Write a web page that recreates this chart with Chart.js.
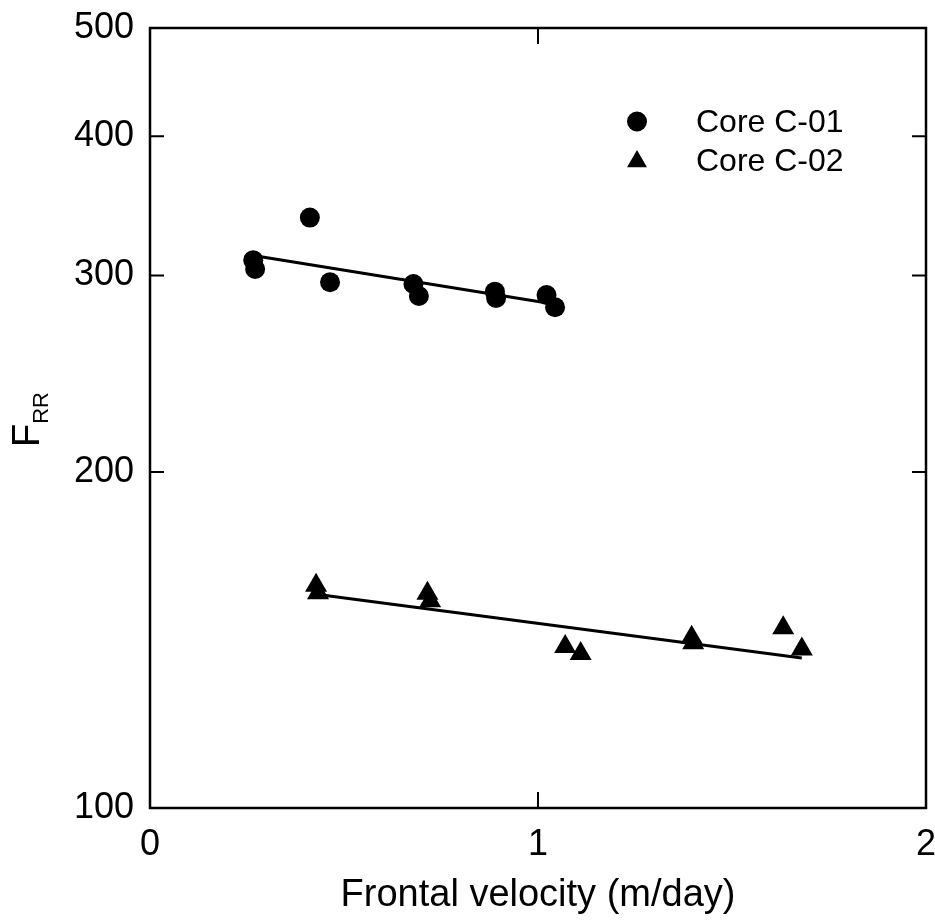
<!DOCTYPE html>
<html>
<head>
<meta charset="utf-8">
<script src="https://cdn.jsdelivr.net/npm/chart.js@4/dist/chart.umd.min.js"></script>
<style>
  html, body { margin: 0; padding: 0; background: #fff; }
  #wrap { width: 935px; height: 924px; }
</style>
</head>
<body>
<div id="wrap"><canvas id="frrChart" width="935" height="924"></canvas></div>
<script>
// ── data ──
const X_TICKS = [0, 1, 2];
const Y_TICKS = [100, 200, 300, 400, 500];

// Core C-01 (circles)
const C01_X = [0.266, 0.271, 0.412, 0.464, 0.679, 0.693, 0.889, 0.892, 1.022, 1.044];
const C01_Y = [309.7, 304.1, 338.1, 295.9, 294.8, 287.6, 290.2, 286.4, 288.2, 281.0];

// Core C-02 (triangles)
const C02_X = [0.428, 0.433, 0.715, 0.722, 1.070, 1.110, 1.396, 1.400, 1.632, 1.680];
const C02_Y = [158.3, 155.9, 155.7, 153.3, 139.5, 137.5, 142.2, 140.6, 145.0, 138.8];

// fitted lines (end points)
const FIT01_X = [0.266, 1.044];
const FIT01_Y = [312.7, 282.8];
const FIT02_X = [0.428, 1.680];
const FIT02_Y = [155.4, 136.3];

const LABELS = ['Core C-01', 'Core C-02'];

const toXY = (xs, ys) => xs.map((x, i) => ({ x: x, y: ys[i] }));

const FONT = 'Liberation Sans, Arial, Helvetica, sans-serif';

// ── box, inside ticks, legend, y title ──
const framePlugin = {
  id: 'frame',
  afterDraw(chart) {
    const { ctx, chartArea: a, scales: { x, y } } = chart;
    ctx.save();
    ctx.strokeStyle = '#000';
    ctx.lineWidth = 2.5;
    ctx.strokeRect(a.left, a.top, a.right - a.left, a.bottom - a.top);

    // inside tick marks
    ctx.lineWidth = 2;
    ctx.beginPath();
    Y_TICKS.slice(1, -1).forEach(v => {
      const py = y.getPixelForValue(v);
      ctx.moveTo(a.left, py);  ctx.lineTo(a.left + 14, py);
      ctx.moveTo(a.right, py); ctx.lineTo(a.right - 14, py);
    });
    X_TICKS.slice(1, -1).forEach(v => {
      const px = x.getPixelForValue(v);
      ctx.moveTo(px, a.bottom); ctx.lineTo(px, a.bottom - 16);
      ctx.moveTo(px, a.top);    ctx.lineTo(px, a.top + 16);
    });
    ctx.stroke();

    // legend
    ctx.fillStyle = '#000';
    ctx.beginPath();
    ctx.arc(637, 121.5, 10, 0, Math.PI * 2);
    ctx.fill();
    const r = 11.5, cx = 637, cy = 161.5;
    ctx.beginPath();
    ctx.moveTo(cx, cy - r);
    ctx.lineTo(cx + Math.sin(Math.PI * 2 / 3) * r, cy + r / 2);
    ctx.lineTo(cx - Math.sin(Math.PI * 2 / 3) * r, cy + r / 2);
    ctx.closePath();
    ctx.fill();
    ctx.font = '32px ' + FONT;
    ctx.textAlign = 'left';
    ctx.textBaseline = 'alphabetic';
    ctx.fillText(LABELS[0], 696, 131.5);
    ctx.fillText(LABELS[1], 696, 170.5);

    // y title: F with subscript RR
    ctx.translate(39, 447);
    ctx.rotate(-Math.PI / 2);
    ctx.font = '38px ' + FONT;
    ctx.fillText('F', 0, 0);
    const fw = ctx.measureText('F').width;
    ctx.font = '22px ' + FONT;
    ctx.fillText('RR', fw, 9);
    ctx.restore();
  }
};

new Chart(document.getElementById('frrChart'), {
  type: 'scatter',
  data: {
    datasets: [
      {
        label: LABELS[0],
        data: toXY(C01_X, C01_Y),
        pointStyle: 'circle',
        pointRadius: 10,
        pointHoverRadius: 10,
        backgroundColor: '#000',
        borderWidth: 0,
      },
      {
        label: LABELS[1],
        data: toXY(C02_X, C02_Y),
        pointStyle: 'triangle',
        pointRadius: 12.7,
        pointHoverRadius: 12.7,
        backgroundColor: '#000',
        borderWidth: 0,
      },
      {
        label: 'fit C-01',
        data: toXY(FIT01_X, FIT01_Y),
        showLine: true,
        pointRadius: 0,
        borderColor: '#000',
        borderWidth: 3,
      },
      {
        label: 'fit C-02',
        data: toXY(FIT02_X, FIT02_Y),
        showLine: true,
        pointRadius: 0,
        borderColor: '#000',
        borderWidth: 3,
      },
    ]
  },
  options: {
    responsive: false,
    animation: false,
    events: [],
    layout: { autoPadding: false, padding: { left: 0, right: 9, top: 28, bottom: 0 } },
    plugins: {
      legend: { display: false },
      tooltip: { enabled: false },
    },
    scales: {
      x: {
        type: 'linear',
        min: 0, max: 2,
        afterBuildTicks: s => { s.ticks = X_TICKS.map(v => ({ value: v })); },
        afterFit: s => { s.height = 116; s.paddingLeft = 0; s.paddingRight = 0; },
        grid: { display: false, drawTicks: false },
        border: { display: false },
        ticks: { color: '#000', padding: 15, font: { family: FONT, size: 36 } },
        title: {
          display: true,
          text: 'Frontal velocity (m/day)',
          color: '#000',
          font: { family: FONT, size: 38 },
          padding: { top: 0, bottom: 6 },
        },
      },
      y: {
        type: 'logarithmic',
        min: 100, max: 500,
        afterBuildTicks: s => { s.ticks = Y_TICKS.map(v => ({ value: v })); },
        afterFit: s => { s.width = 150; s.paddingTop = 0; s.paddingBottom = 0; },
        grid: { display: false, drawTicks: false },
        border: { display: false },
        ticks: {
          color: '#000', padding: 16,
          font: { family: FONT, size: 36 },
          callback: v => String(v),
        },
      },
    },
  },
  plugins: [framePlugin],
});
</script>
</body>
</html>
